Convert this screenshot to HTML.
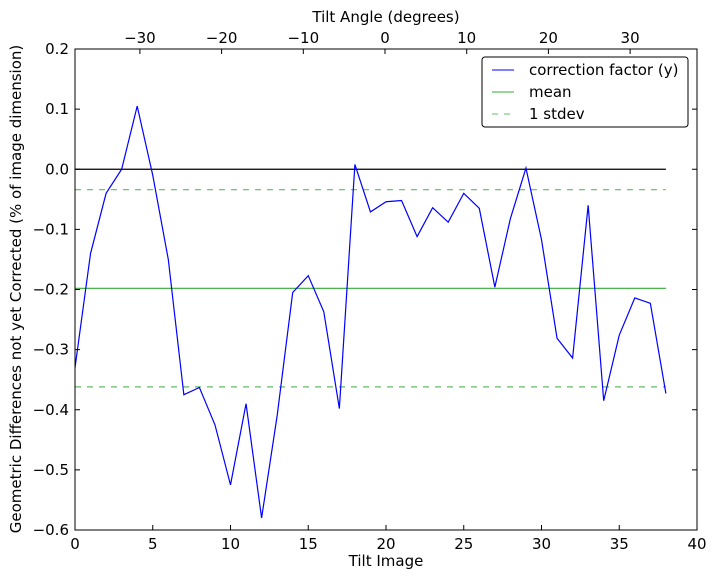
<!DOCTYPE html>
<html><head><style>
body{margin:0;background:#fff;}
svg text{font-family:"DejaVu Sans","Liberation Sans",sans-serif;font-size:15px;fill:#000;}
</style></head><body>
<svg id="s" width="714" height="579" xmlns="http://www.w3.org/2000/svg"></svg>
<script>
const L=75,R=697,T=49,B=530;
const X=v=>L+(R-L)*v/40, Y=v=>T+(0.2-v)/0.8*(B-T);
const d=[-0.33,-0.14,-0.04,0.0,0.105,-0.01,-0.15,-0.375,-0.363,-0.425,-0.525,-0.39,-0.58,-0.41,-0.205,-0.177,-0.237,-0.398,0.008,-0.071,-0.054,-0.052,-0.112,-0.064,-0.088,-0.04,-0.065,-0.196,-0.082,0.002,-0.117,-0.281,-0.314,-0.06,-0.385,-0.276,-0.214,-0.223,-0.373];
let s='';
const x38=X(38);
s+=`<line x1="${L}" x2="${x38}" y1="${Y(0)}" y2="${Y(0)}" stroke="#000" stroke-width="1.2"/>`;
s+=`<line x1="${L}" x2="${x38}" y1="${Y(-0.198)}" y2="${Y(-0.198)}" stroke="#3a3" stroke-width="1.2"/>`;
for(const v of [-0.034,-0.362]) s+=`<line x1="${L}" x2="${x38}" y1="${Y(v)}" y2="${Y(v)}" stroke="#6b6" stroke-width="1.2" stroke-dasharray="6,6"/>`;
s+=`<polyline fill="none" stroke="#00f" stroke-width="1.2" points="${d.map((v,i)=>X(i)+','+Y(v)).join(' ')}"/>`;
s+=`<rect x="${L}" y="${T}" width="${R-L}" height="${B-T}" fill="none" stroke="#000" stroke-width="1"/>`;
for(let v=0;v<=40;v+=5){const x=X(v);s+=`<line x1="${x}" x2="${x}" y1="${B}" y2="${B-5}" stroke="#000"/><text x="${x}" y="${B+19}" text-anchor="middle">${v}</text>`;}
for(let k=0;k<=8;k++){const v=0.2-k*0.1;const y=Y(v);s+=`<line x1="${L}" x2="${L+5}" y1="${y}" y2="${y}" stroke="#000"/><line x1="${R}" x2="${R-5}" y1="${y}" y2="${y}" stroke="#000"/><text x="${L-6}" y="${y+5}" text-anchor="end">${(Math.abs(v)<1e-9?0:v).toFixed(1).replace('-','\u2212')}</text>`;}
for(let a=-30;a<=30;a+=10){const x=385+a*8.17;s+=`<line x1="${x}" x2="${x}" y1="${T}" y2="${T+5}" stroke="#000"/><text x="${x}" y="${T-6}" text-anchor="middle">${a<0?'\u2212'+(-a):a}</text>`;}
s+=`<text x="386" y="566" text-anchor="middle">Tilt Image</text>`;
s+=`<text x="386" y="22" text-anchor="middle">Tilt Angle (degrees)</text>`;
s+=`<text transform="translate(21,289) rotate(-90)" text-anchor="middle">Geometric Differences not yet Corrected (% of image dimension)</text>`;
s+=`<rect x="482" y="57" width="206" height="70" rx="3" fill="#fff" stroke="#000"/>`;
s+=`<line x1="492" x2="514" y1="70" y2="70" stroke="#00f"/><text x="529" y="75">correction factor (y)</text>`;
s+=`<line x1="492" x2="514" y1="92" y2="92" stroke="#3a3"/><text x="529" y="97">mean</text>`;
s+=`<line x1="492" x2="514" y1="114" y2="114" stroke="#6b6" stroke-dasharray="6,6"/><text x="529" y="119">1 stdev</text>`;
document.getElementById('s').innerHTML=s;
</script>
</body></html>
